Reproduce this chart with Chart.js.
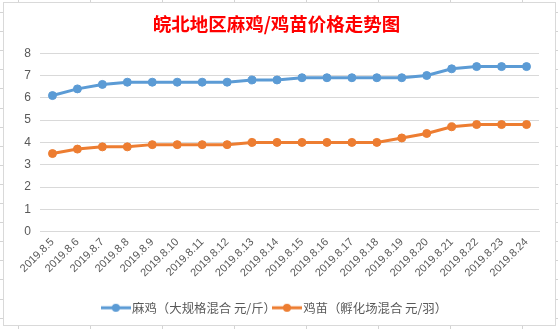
<!DOCTYPE html>
<html>
<head>
<meta charset="utf-8">
<script src="https://cdn.jsdelivr.net/npm/chart.js@4/dist/chart.umd.min.js"></script>
<style>
  html, body { margin: 0; padding: 0; background: #fff; }
  #wrap { position: relative; width: 558px; height: 329px; }
</style>
</head>
<body>
<div id="wrap"><canvas id="priceChart" width="558" height="329"></canvas></div>
<script>
const dates = ['2019.8.5', '2019.8.6', '2019.8.7', '2019.8.8', '2019.8.9', '2019.8.10', '2019.8.11',
    '2019.8.12', '2019.8.13', '2019.8.14', '2019.8.15', '2019.8.16', '2019.8.17', '2019.8.18',
    '2019.8.19', '2019.8.20', '2019.8.21', '2019.8.22', '2019.8.23', '2019.8.24'];
const maJi = [6.1, 6.4, 6.6, 6.7, 6.7, 6.7, 6.7, 6.7, 6.8, 6.8, 6.9, 6.9, 6.9, 6.9, 6.9, 7.0, 7.3, 7.4, 7.4, 7.4];
const jiMiao = [3.5, 3.7, 3.8, 3.8, 3.9, 3.9, 3.9, 3.9, 4.0, 4.0, 4.0, 4.0, 4.0, 4.0, 4.2, 4.4, 4.7, 4.8, 4.8, 4.8];
const yTicks = [0, 1, 2, 3, 4, 5, 6, 7, 8];

const blue = '#5B9BD5';
const orange = '#ED7D31';
const textGray = '#595959';

// legend marker: short line with a dot in the middle
function legendMark(color) {
    const c = document.createElement('canvas');
    c.width = 30;
    c.height = 10;
    const g = c.getContext('2d');
    g.strokeStyle = color;
    g.lineWidth = 3;
    g.beginPath();
    g.moveTo(0, 5);
    g.lineTo(30, 5);
    g.stroke();
    g.fillStyle = color;
    g.beginPath();
    g.arc(15, 5, 4, 0, Math.PI * 2);
    g.fill();
    return c;
}

// spreadsheet frame behind the chart
const sheetFrame = {
    id: 'sheetFrame',
    beforeDraw(chart) {
        const ctx = chart.ctx;
        ctx.save();
        ctx.fillStyle = '#fff';
        ctx.fillRect(0, 0, chart.width, chart.height);
        ctx.strokeStyle = '#D4D4D4';
        ctx.lineWidth = 1;
        ctx.beginPath();
        for (let x = 18; x < 558; x += 72) {
            ctx.moveTo(x + 0.5, 0); ctx.lineTo(x + 0.5, 2);
            ctx.moveTo(x + 0.5, 326); ctx.lineTo(x + 0.5, 329);
        }
        for (let k = 0; k < 18; k++) {
            const y = Math.round(12 + 19.1 * k) + 0.5;
            ctx.moveTo(0, y); ctx.lineTo(3, y);
            ctx.moveTo(555, y); ctx.lineTo(558, y);
        }
        ctx.stroke();
        ctx.strokeStyle = '#D9D9D9';
        ctx.strokeRect(3.5, 2.5, 552, 323);
        ctx.restore();
    }
};

const ctx = document.getElementById('priceChart').getContext('2d');
const priceChart = new Chart(ctx, {
    type: 'line',
    data: {
        labels: dates,
        datasets: [{
            label: '麻鸡（大规格混合 元/斤）',
            data: maJi,
            borderColor: blue,
            backgroundColor: blue,
            borderWidth: 3,
            pointRadius: 4,
            pointBorderWidth: 1,
            pointStyle: 'circle'
        }, {
            label: '鸡苗（孵化场混合 元/羽）',
            data: jiMiao,
            borderColor: orange,
            backgroundColor: orange,
            borderWidth: 3,
            pointRadius: 4,
            pointBorderWidth: 1,
            pointStyle: 'circle'
        }]
    },
    options: {
        responsive: false,
        animation: false,
        layout: {
            padding: { left: 14, right: 19, top: 0, bottom: 5 }
        },
        plugins: {
            title: {
                display: true,
                text: '皖北地区麻鸡/鸡苗价格走势图',
                color: '#FF0000',
                font: { family: '"Noto Sans CJK SC"', size: 18.5, weight: 'bold' },
                padding: { top: 13, bottom: 18 }
            },
            legend: {
                position: 'bottom',
                labels: {
                    color: textGray,
                    font: { family: '"Noto Sans CJK SC"', size: 12.4 },
                    usePointStyle: true,
                    pointStyleWidth: 20,
                    padding: 1,
                    generateLabels(chart) {
                        const items = Chart.defaults.plugins.legend.labels.generateLabels(chart);
                        items.forEach((it, i) => {
                            it.pointStyle = legendMark(i === 0 ? blue : orange);
                        });
                        return items;
                    }
                }
            },
            tooltip: { enabled: false }
        },
        scales: {
            x: {
                offset: true,
                grid: { display: false, drawTicks: false },
                border: { color: '#D9D9D9' },
                ticks: {
                    color: textGray,
                    font: { family: '"Liberation Sans"', size: 11 },
                    maxRotation: 45,
                    minRotation: 45,
                    autoSkip: false,
                    padding: 4
                },
                afterFit(scale) { scale.height = 69; }
            },
            y: {
                min: 0,
                max: 8,
                afterBuildTicks(scale) {
                    scale.ticks = yTicks.map(v => ({ value: v }));
                },
                grid: { color: '#D9D9D9', drawTicks: false },
                border: { display: false },
                ticks: {
                    color: textGray,
                    font: { family: '"Liberation Sans"', size: 12 },
                    padding: 9
                },
                afterFit(scale) { scale.width = 26; }
            }
        }
    },
    plugins: [sheetFrame]
});
</script>
</body>
</html>
